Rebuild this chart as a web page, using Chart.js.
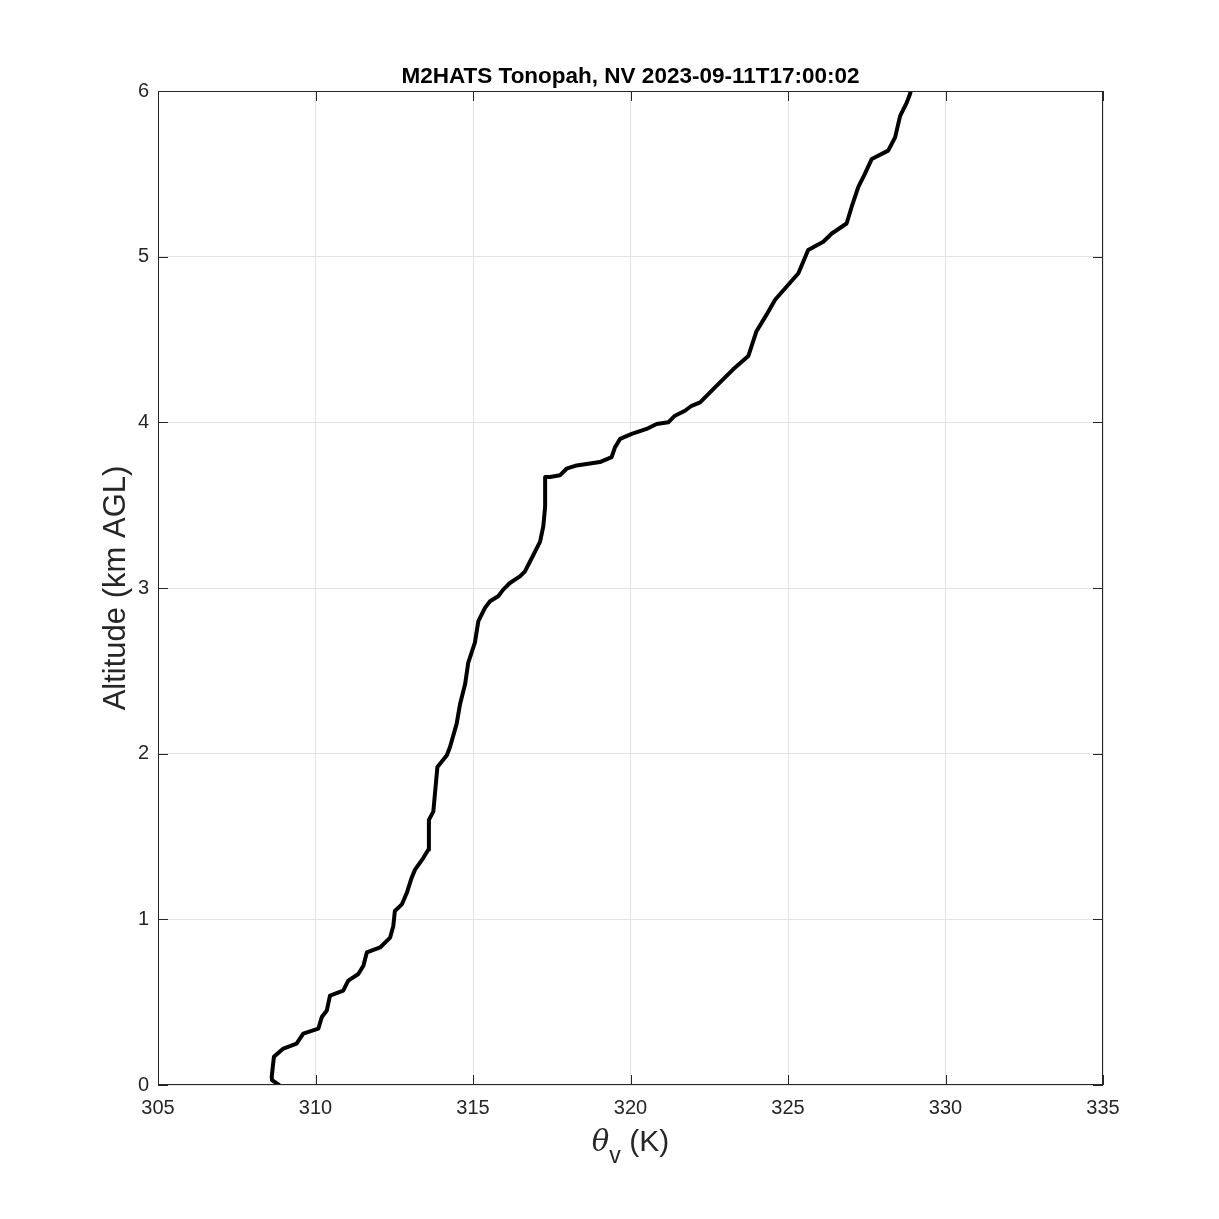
<!DOCTYPE html>
<html>
<head>
<meta charset="utf-8">
<script src="https://cdn.jsdelivr.net/npm/chart.js@4.4.1/dist/chart.umd.min.js"></script>
<style>
  html, body { margin: 0; padding: 0; background: #fff; }
  #wrap { width: 1219px; height: 1219px; }
</style>
</head>
<body>
<div id="wrap"><canvas id="profile" width="1219" height="1219"></canvas></div>
<script>
  // Virtual potential temperature profile (K) vs altitude (km AGL)
  const thetaV = [
    308.84, 308.62, 308.61, 308.68, 308.98, 309.40, 309.61, 310.09, 310.20, 310.36,
    310.46, 310.88, 311.04, 311.36, 311.52, 311.63, 312.05, 312.37, 312.47, 312.52,
    312.74, 312.90, 313.05, 313.16, 313.42, 313.58, 313.60, 313.74, 313.87, 314.17,
    314.27, 314.48, 314.59, 314.75, 314.85, 315.06, 315.17, 315.38, 315.54, 315.80,
    315.96, 316.17, 316.49, 316.65, 316.81, 316.97, 317.13, 317.23, 317.29, 317.29,
    317.44, 317.76, 317.97, 318.29, 319.03, 319.40, 319.51, 319.67, 320.04, 320.51,
    320.83, 321.20, 321.41, 321.73, 321.94, 322.21, 322.73, 323.26, 323.74, 324.00,
    324.32, 324.59, 324.96, 325.33, 325.64, 326.12, 326.39, 326.86, 327.02, 327.23,
    327.44, 327.66, 328.18, 328.40, 328.56, 328.77, 328.87, 328.90
  ];
  const altitudeKm = [
    0.00, 0.03, 0.05, 0.17, 0.22, 0.25, 0.31, 0.34, 0.41, 0.45,
    0.54, 0.57, 0.63, 0.67, 0.72, 0.80, 0.83, 0.89, 0.96, 1.05,
    1.09, 1.16, 1.25, 1.30, 1.37, 1.42, 1.60, 1.65, 1.92, 1.99,
    2.04, 2.18, 2.30, 2.42, 2.55, 2.67, 2.80, 2.88, 2.92, 2.95,
    2.99, 3.03, 3.07, 3.10, 3.16, 3.22, 3.28, 3.37, 3.49, 3.67,
    3.67, 3.68, 3.72, 3.74, 3.76, 3.79, 3.85, 3.90, 3.93, 3.96,
    3.99, 4.00, 4.04, 4.07, 4.10, 4.12, 4.22, 4.32, 4.40, 4.55,
    4.65, 4.74, 4.82, 4.90, 5.04, 5.09, 5.14, 5.20, 5.30, 5.42,
    5.50, 5.59, 5.64, 5.72, 5.85, 5.93, 5.98, 6.00
  ];
  const xTicks = [305, 310, 315, 320, 325, 330, 335];
  const yTicks = [0, 1, 2, 3, 4, 5, 6];
  const titleText = "M2HATS Tonopah, NV 2023-09-11T17:00:02";

  const axisColor = "#262626";
  const fontFamily = "'Liberation Sans', Arial, Helvetica, sans-serif";

  const points = thetaV.map((t, i) => ({ x: t, y: altitudeKm[i] }));

  // Box, inward ticks, title and axis labels drawn MATLAB style
  const matlabFrame = {
    id: "matlabFrame",
    afterDraw(chart) {
      const { ctx, chartArea: a, scales } = chart;
      const xs = scales.x, ys = scales.y;
      ctx.save();
      ctx.strokeStyle = axisColor;
      ctx.lineWidth = 1;
      ctx.strokeRect(a.left + 0.5, a.top + 0.5, a.right - a.left - 1, a.bottom - a.top - 1);
      const tl = 10;
      ctx.beginPath();
      xTicks.forEach(v => {
        const px = Math.round(xs.getPixelForValue(v)) + 0.5;
        ctx.moveTo(px, a.bottom); ctx.lineTo(px, a.bottom - tl);
        ctx.moveTo(px, a.top); ctx.lineTo(px, a.top + tl);
      });
      yTicks.forEach(v => {
        const py = Math.round(ys.getPixelForValue(v)) + 0.5;
        ctx.moveTo(a.left, py); ctx.lineTo(a.left + tl, py);
        ctx.moveTo(a.right, py); ctx.lineTo(a.right - tl, py);
      });
      ctx.stroke();

      const cx = (a.left + a.right) / 2;
      ctx.fillStyle = "#000";
      ctx.font = "bold 22.5px " + fontFamily;
      ctx.textAlign = "center";
      ctx.textBaseline = "bottom";
      ctx.fillText(titleText, cx, a.top - 3);

      // x label: theta_v (K)
      ctx.fillStyle = axisColor;
      ctx.textBaseline = "alphabetic";
      ctx.font = "italic 29px 'DejaVu Serif', 'Liberation Serif', serif";
      const thetaW = ctx.measureText("\u03B8").width;
      ctx.font = "23px " + fontFamily;
      const subW = ctx.measureText("v").width;
      ctx.font = "30px " + fontFamily;
      const restW = ctx.measureText(" (K)").width;
      let x0 = cx - (thetaW + subW + restW) / 2;
      const base = 1151;
      ctx.textAlign = "left";
      ctx.font = "italic 29px 'DejaVu Serif', 'Liberation Serif', serif";
      ctx.fillText("\u03B8", x0, base);
      ctx.font = "23px " + fontFamily;
      ctx.fillText("v", x0 + thetaW, base + 12);
      ctx.font = "30px " + fontFamily;
      ctx.fillText(" (K)", x0 + thetaW + subW, base);

      // y label
      ctx.translate(116, (a.top + a.bottom) / 2);
      ctx.rotate(-Math.PI / 2);
      ctx.textAlign = "center";
      ctx.textBaseline = "middle";
      ctx.font = "31px " + fontFamily;
      ctx.fillText("Altitude (km AGL)", 0, 0);
      ctx.restore();
    }
  };

  new Chart(document.getElementById("profile").getContext("2d"), {
    type: "scatter",
    data: {
      datasets: [{
        data: points,
        showLine: true,
        borderColor: "#000",
        borderWidth: 4,
        pointRadius: 0,
        tension: 0,
        borderJoinStyle: "round",
        borderCapStyle: "round"
      }]
    },
    options: {
      responsive: false,
      animation: false,
      layout: { padding: { top: 91, right: 116, left: 0, bottom: 0 } },
      plugins: { legend: { display: false }, tooltip: { enabled: false } },
      scales: {
        x: {
          type: "linear",
          min: 305, max: 335,
          afterBuildTicks: s => { s.ticks = xTicks.map(v => ({ value: v })); },
          afterFit: s => { s.height = 134; },
          grid: { color: "#e3e3e3", lineWidth: 1, drawTicks: false },
          border: { display: false },
          ticks: { color: axisColor, padding: 11, font: { size: 20, family: fontFamily } }
        },
        y: {
          type: "linear",
          min: 0, max: 6,
          afterBuildTicks: s => { s.ticks = yTicks.map(v => ({ value: v })); },
          afterFit: s => { s.width = 158; },
          grid: { color: "#e3e3e3", lineWidth: 1, drawTicks: false },
          border: { display: false },
          ticks: { color: axisColor, padding: 9, font: { size: 20, family: fontFamily } }
        }
      }
    },
    plugins: [matlabFrame]
  });
</script>
</body>
</html>
